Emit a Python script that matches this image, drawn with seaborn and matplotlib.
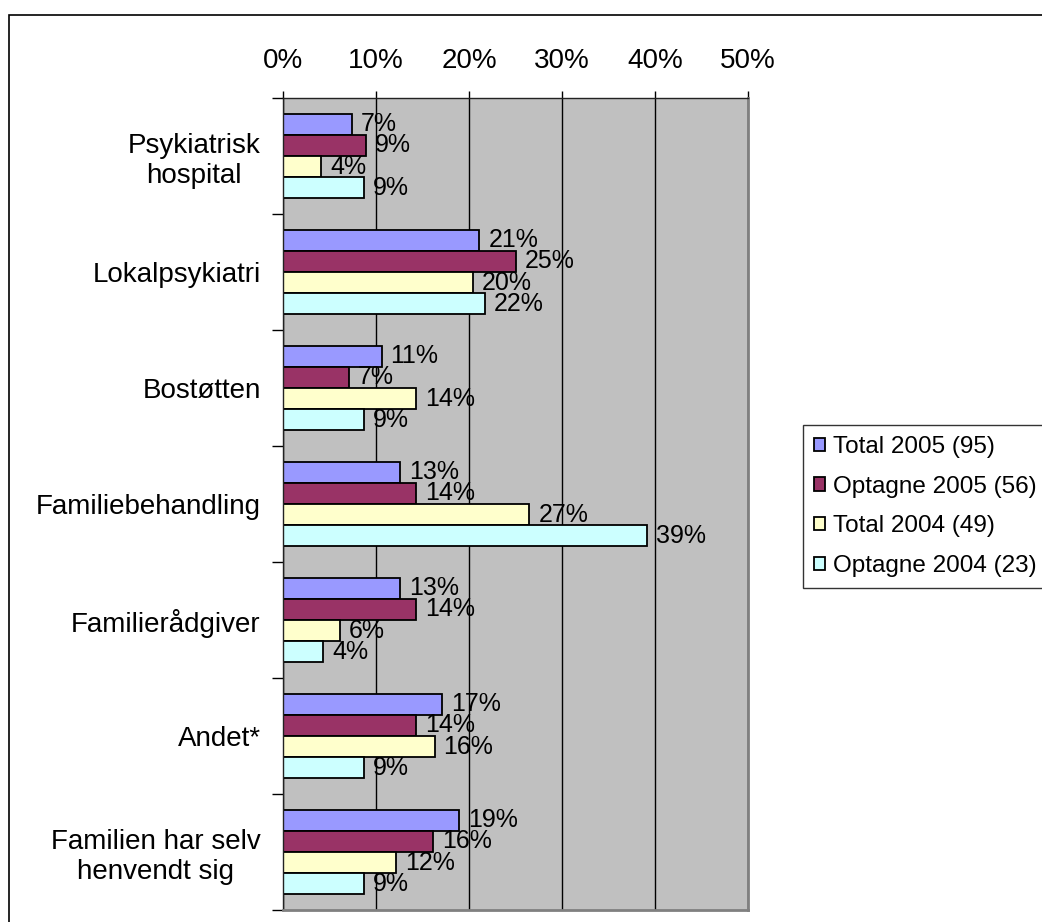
import matplotlib
matplotlib.use("Agg")
import matplotlib.pyplot as plt
import matplotlib.patches as mpatches
import numpy as np
import pandas as pd
import seaborn as sns

categories = ["Psykiatrisk\nhospital", "Lokalpsykiatri", "Bostøtten", "Familiebehandling",
              "Familierådgiver", "Andet*", "Familien har selv\nhenvendt sig"]
series = ["Total 2005 (95)", "Optagne 2005 (56)", "Total 2004 (49)", "Optagne 2004 (23)"]
total_2005 = [0.074, 0.211, 0.106, 0.126, 0.126, 0.171, 0.189]
optagne_2005 = [0.089, 0.250, 0.071, 0.143, 0.143, 0.143, 0.161]
total_2004 = [0.041, 0.204, 0.143, 0.265, 0.061, 0.163, 0.122]
optagne_2004 = [0.087, 0.217, 0.087, 0.391, 0.043, 0.087, 0.087]
colors = ["#9999FF", "#993366", "#FFFFCC", "#CCFFFF"]
x_ticks = [0, 0.1, 0.2, 0.3, 0.4, 0.5]

plt.rcParams["font.family"] = ["Liberation Sans", "DejaVu Sans"]

df = pd.DataFrame({
    "kategori": np.tile(categories, 4),
    "serie": np.repeat(series, len(categories)),
    "andel": total_2005 + optagne_2005 + total_2004 + optagne_2004,
})

fig = plt.figure(figsize=(10.42, 9.22), dpi=100)
ax = fig.add_axes([283 / 1042, 1 - 910 / 922, (748 - 283) / 1042, (910 - 98) / 922])
ax.set_facecolor("#C0C0C0")

sns.barplot(data=df, y="kategori", x="andel", hue="serie", hue_order=series,
            order=categories, palette=dict(zip(series, colors)), width=0.73,
            edgecolor="black", linewidth=1.3, orient="h", ax=ax, saturation=1)

handles, labels = ax.get_legend_handles_labels()
if ax.get_legend() is not None:
    ax.get_legend().remove()

# value labels to the right of each bar
for cont, vals in zip(ax.containers, [total_2005, optagne_2005, total_2004, optagne_2004]):
    ax.bar_label(cont, labels=[f"{int(v * 100 + 0.5)}%" for v in vals],
                 padding=6.5, fontsize=18)

ax.set_xlim(0, 0.5)
ax.set_ylim(6.5, -0.5)
ax.xaxis.tick_top()
ax.set_xticks(x_ticks, [f"{int(round(t * 100))}%" for t in x_ticks])
ax.tick_params(axis="x", which="major", length=5, width=1, pad=12.4, labelsize=20,
               direction="out")
ax.set_yticks(range(len(categories)), categories)
ax.set_yticks(np.arange(-0.5, len(categories)), minor=True)
ax.tick_params(axis="y", which="major", length=0, pad=16, labelsize=20)
ax.tick_params(axis="y", which="minor", length=8, width=1, direction="out")
for lbl in ax.get_yticklabels():
    lbl.set_multialignment("center")
ax.set_xlabel("")
ax.set_ylabel("")
ax.grid(axis="x", color="black", linewidth=1)
ax.grid(axis="y", visible=False)
ax.set_axisbelow(True)

for side in ["top", "left"]:
    ax.spines[side].set_color("#222222")
    ax.spines[side].set_linewidth(1)
for side in ["right", "bottom"]:
    ax.spines[side].set_color("#808080")
    ax.spines[side].set_linewidth(2)

leg = fig.legend(handles, labels, loc="upper left", bbox_to_anchor=(803 / 1042, 1 - 425 / 922),
                 fontsize=17.5, frameon=True, fancybox=False, edgecolor="black",
                 handlelength=0.47, handleheight=0.47, handletextpad=0.3,
                 labelspacing=0.73, borderpad=0.45, borderaxespad=0)
leg.get_frame().set_linewidth(1)

# outer chart border
fig.patches.append(mpatches.Rectangle((9 / 1042, -0.1), 1.2, 0.1 + 1 - 15 / 922,
                                      transform=fig.transFigure, fill=False,
                                      edgecolor="black", linewidth=1.2))

fig.savefig("out.png", dpi=100)
